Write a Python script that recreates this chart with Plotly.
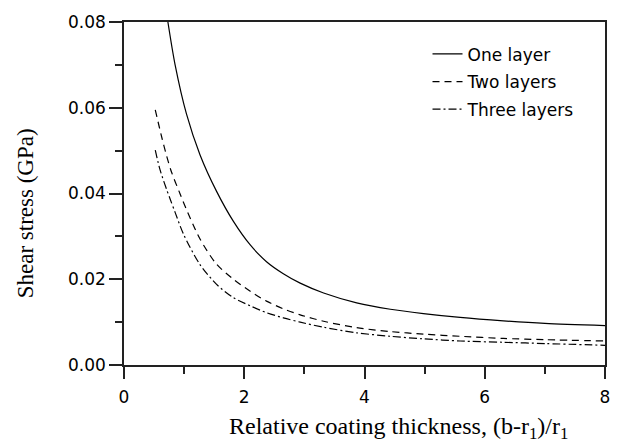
import plotly.graph_objects as go

# Data
x_one = [0.73, 0.85, 1.04, 1.265, 1.54, 1.82, 2.10, 2.37, 2.65, 2.93, 3.32, 3.87, 4.43, 4.98, 5.59, 6.31, 7.00, 8.00]
y_one = [0.0800, 0.0700, 0.0585, 0.0490, 0.0405, 0.0335, 0.0280, 0.0241, 0.0213, 0.0191, 0.0168, 0.0145, 0.0130, 0.0120, 0.0111, 0.0103, 0.0097, 0.0092]

x_two = [0.52, 0.63, 0.71, 0.79, 0.93, 0.99, 1.26, 1.54, 1.82, 2.10, 2.37, 2.65, 2.93, 3.32, 3.87, 4.43, 4.98, 5.59, 6.31, 7.00, 8.00]
y_two = [0.0595, 0.0530, 0.0487, 0.0450, 0.0400, 0.0379, 0.0295, 0.0235, 0.0200, 0.0172, 0.0149, 0.0131, 0.0117, 0.0102, 0.0087, 0.0078, 0.0072, 0.0067, 0.0062, 0.0059, 0.0056]

x_three = [0.52, 0.60, 0.71, 0.77, 0.85, 0.99, 1.26, 1.54, 1.82, 2.10, 2.37, 2.65, 2.93, 3.32, 3.87, 4.43, 4.98, 5.59, 6.31, 7.00, 8.00]
y_three = [0.0501, 0.0455, 0.0409, 0.0386, 0.0356, 0.0305, 0.0235, 0.0188, 0.0157, 0.0138, 0.0122, 0.0110, 0.0100, 0.0088, 0.0075, 0.0067, 0.0061, 0.0056, 0.0053, 0.0050, 0.0046]

names = ["One layer", "Two layers", "Three layers"]
dashes = ["solid", "7px,5px", "8px,3px,2px,3px"]

y_ticks = [0.00, 0.02, 0.04, 0.06, 0.08]
x_ticks = [0, 2, 4, 6, 8]

x_title = "Relative coating thickness, (b-r<sub>1</sub>)/r<sub>1</sub>"
y_title = "Shear stress (GPa)"

fig = go.Figure()
for i, (xs, ys) in enumerate([(x_one, y_one), (x_two, y_two), (x_three, y_three)]):
    fig.add_trace(go.Scatter(
        x=xs, y=ys, mode="lines", name=names[i], legendgroup="g%d" % i,
        line=dict(color="black", width=1.2, dash=dashes[i], shape="spline", smoothing=0.8),
    ))

axis_common = dict(
    showgrid=False, zeroline=False, showline=True, linecolor="#222", linewidth=1.5,
    mirror=True, ticks="outside", tickcolor="#222", tickwidth=1.5,
    tickfont=dict(family="DejaVu Sans", size=17, color="black"),
)

fig.update_xaxes(
    range=[0, 8], tickvals=x_ticks, ticklen=12, ticklabelstandoff=4,
    minor=dict(dtick=1, ticks="outside", ticklen=7, tickcolor="#222", tickwidth=1.5),
    **axis_common,
)
fig.update_yaxes(
    range=[0, 0.08], tickvals=y_ticks, tickformat=".2f", ticklen=13,
    minor=dict(dtick=0.01, ticks="outside", ticklen=7, tickcolor="#222", tickwidth=1.5),
    **axis_common,
)

fig.add_annotation(text=x_title, xref="paper", yref="paper", x=0.571, y=-0.184,
                   xanchor="center", yanchor="middle", showarrow=False,
                   font=dict(family="Liberation Serif", size=24, color="black"))
fig.add_annotation(text=y_title, xref="paper", yref="paper", x=-0.206, y=0.442,
                   xanchor="center", yanchor="middle", showarrow=False, textangle=-90,
                   font=dict(family="Liberation Serif", size=23, color="black"))

fig.update_layout(
    width=642, height=444,
    margin=dict(l=124, r=37, t=16, b=79),
    plot_bgcolor="white", paper_bgcolor="white",
    showlegend=True,
    legend=dict(x=0.631, y=0.958, xanchor="left", yanchor="top",
                font=dict(family="DejaVu Sans", size=17, color="black"),
                bgcolor="rgba(0,0,0,0)", tracegroupgap=2.5, traceorder="grouped"),
)

fig.write_html("out.html")
